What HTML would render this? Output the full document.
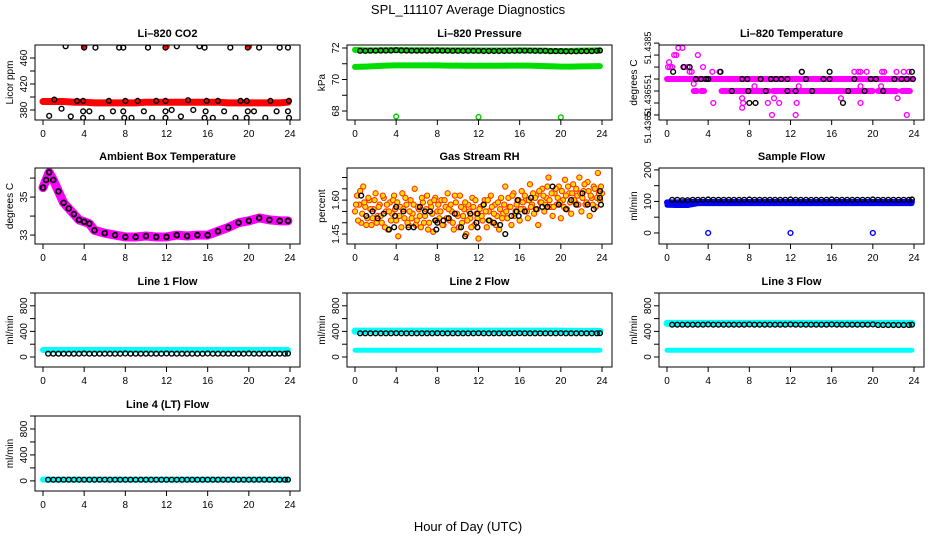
<!DOCTYPE html>
<html><head><meta charset="utf-8"><style>
html,body{margin:0;padding:0;background:#fff}
svg{display:block;font-family:"Liberation Sans",sans-serif}
</style></head><body>
<svg id="c" width="936" height="540" viewBox="0 0 936 540">
<rect width="936" height="540" fill="#fff"/>
<text x="468" y="14" font-size="13" text-anchor="middle">SPL_111107  Average Diagnostics</text>
<text x="468" y="531" font-size="13" text-anchor="middle">Hour of Day (UTC)</text>
</svg>
<script>
const xTicks=[0,4,8,12,16,20,24];
const hourly=[0,1,2,3,4,5,6,7,8,9,10,11,12,13,14,15,16,17,18,19,20,21,22,23,23.8];
const halfHours=[0.5,1,1.5,2,2.5,3,3.5,4,4.5,5,5.5,6,6.5,7,7.5,8,8.5,9,9.5,10,10.5,11,11.5,12,12.5,13,13.5,14,14.5,15,15.5,16,16.5,17,17.5,18,18.5,19,19.5,20,20.5,21,21.5,22,22.5,23,23.5,23.8];
// CO2
const co2Red=[393,393,393,392,392,391,391,391,391,391,392,392,392,392,392,392,392,392,391,391,391,391,391,391,392];
const co2RedOutH=[4,12,20], co2RedOutV=[478,478,478];
const co2BlkH=[2.2,4.0,5.1,7.4,7.8,10.2,11.9,13.0,15.2,15.7,18.2,19.9,21.0,23.0,23.8,1.1,3.3,3.9,6.4,8.0,9.2,11.0,11.9,14.1,15.9,17.0,19.2,19.8,22.1,23.9,0.6,1.8,2.7,3.9,3.9,4.5,5.7,6.8,7.8,7.9,8.6,9.8,10.6,11.9,11.9,12.5,13.4,14.6,15.7,15.8,16.5,17.6,18.7,19.8,19.9,20.5,21.6,22.7,23.8,23.9];
const co2BlkV=[478,476,476,476,476,476,476,478,478,476,476,476,476,476,476,396,394,394,394,394,394,394,394,395,394,394,394,394,394,394,371,382,370,368,378,378,368,378,378,368,368,378,368,368,378,380,370,380,368,378,368,378,368,368,378,378,368,378,378,368];
// Pressure
const presUpper=[71.88,71.85,71.85,71.86,71.87,71.86,71.86,71.86,71.86,71.85,71.85,71.85,71.84,71.84,71.84,71.84,71.85,71.84,71.83,71.82,71.81,71.82,71.83,71.84,71.85];
const presLower=[70.8,70.82,70.85,70.88,70.9,70.9,70.9,70.9,70.9,70.88,70.88,70.87,70.87,70.87,70.87,70.88,70.88,70.88,70.86,70.84,70.82,70.82,70.83,70.84,70.85];
const presBlk=[71.82,71.82,71.83,71.83,71.84,71.84,71.84,71.86,71.84,71.84,71.83,71.83,71.83,71.83,71.83,71.84,71.83,71.83,71.82,71.82,71.82,71.82,71.82,71.82,71.81,71.81,71.81,71.81,71.81,71.82,71.82,71.83,71.83,71.83,71.82,71.82,71.82,71.8,71.8,71.8,71.79,71.79,71.79,71.8,71.8,71.8,71.82,71.84];
const presOutH=[4,12,20], presOutV=[67.65,67.62,67.6];
// Li-820 temperature
const tempMain=[51.4375,51.4375,51.4375,51.4375,51.4375,51.4375,51.4375,51.4375,51.4375,51.4375,51.4375,51.4375,51.4375,51.4375,51.4375,51.4375,51.4375,51.4375,51.4375,51.4375,51.4375,51.4375,51.4375,51.4375,51.4375];
const tempLowStart=[2.6,3.3,5.3,6.0,10.3,15.0,20.5,22.8], tempLowEnd=[2.9,3.6,5.8,9.9,14.9,20.0,22.3,23.6];
const tempMagH=[0.1,0.2,0.3,0.5,0.7,0.9,1.1,1.3,1.5,1.7,2.0,2.2,2.4,2.6,2.8,3.0,3.5,4.4,4.5,5.1,7.3,7.3,7.4,8.5,9.8,10.2,10.4,10.9,12.8,12.6,12.5,13.1,16.9,18.2,18.6,18.8,18.8,18.8,19.4,20.8,20.9,21.1,22.4,22.3,23.0,23.3,23.5];
const tempMagV=[51.438,51.4382,51.438,51.438,51.4385,51.4385,51.4388,51.439,51.4388,51.438,51.438,51.4378,51.4378,51.4373,51.437,51.4385,51.438,51.4378,51.4365,51.4378,51.4367,51.4363,51.4365,51.4372,51.4365,51.436,51.4367,51.4365,51.4372,51.4365,51.436,51.4378,51.4367,51.4378,51.4378,51.4378,51.4372,51.4365,51.4378,51.4372,51.4378,51.4378,51.4367,51.4378,51.4378,51.436,51.4378];
const tempBlkH=[0.6,1.1,1.6,2.2,5.2,6.3,7.9,8.0,8.6,9.6,11.7,12.5,13.1,14.1,15.8,17.1,17.6,19.2,21.0,23.8,2.8,3.3,3.8,4.0,7.3,7.8,9.1,10.1,10.6,11.1,11.7,13.5,15.2,15.8,18.2,19.8,20.3,22.1,22.8,23.3,23.9];
const tempBlkV=[51.4378,51.439,51.438,51.438,51.4378,51.437,51.437,51.4365,51.4365,51.437,51.437,51.437,51.4378,51.437,51.4378,51.4365,51.437,51.437,51.437,51.4378,51.4375,51.4375,51.4375,51.4375,51.4375,51.4375,51.4375,51.4375,51.4375,51.4375,51.4375,51.4375,51.4375,51.4375,51.4375,51.4375,51.4375,51.4375,51.4375,51.4375,51.4375];
// Ambient box temperature
const ambH=[0,0.3,0.6,1,1.5,2,2.5,3,3.5,4,4.5,5,6,7,8,9,10,11,12,13,14,15,16,17,18,19,20,21,22,23,23.8];
const ambV=[35.5,35.9,36.3,35.9,35.3,34.7,34.4,34.1,33.8,33.7,33.6,33.25,33.1,33.0,32.9,32.9,32.95,32.9,32.9,33.0,32.95,33.0,33.0,33.2,33.4,33.65,33.75,33.9,33.8,33.75,33.75];
// Gas stream RH
const rhYellowA=[1.55,1.62,1.58,1.50,1.66,1.57,1.52,1.60,1.49,1.56,1.63,1.53,1.58,1.50,1.61,1.55,1.47,1.59,1.54,1.62,1.51,1.44,1.57,1.63,1.52,1.58,1.49,1.60,1.54,1.65,1.51,1.56,1.48,1.59,1.53,1.62,1.50,1.57,1.46,1.61,1.55,1.52,1.60,1.49,1.57,1.63,1.51,1.55,1.47,1.59,1.53,1.62,1.50,1.56,1.45,1.58,1.52,1.61,1.49,1.54,1.43,1.57,1.51,1.60,1.48,1.55,1.62,1.50,1.58,1.53,1.47,1.61,1.54,1.66,1.52,1.57,1.49,1.63,1.55,1.59,1.51,1.64,1.56,1.60,1.52,1.67,1.58,1.54,1.62,1.49,1.59,1.65,1.55,1.61,1.70,1.57,1.53,1.63,1.58,1.66,1.52,1.60,1.69,1.56,1.63,1.54,1.67,1.59,1.62,1.70,1.55,1.64,1.58,1.68,1.53,1.61,1.66,1.57,1.72,1.60,1.63];
const rhYellowB=[1.58,1.51,1.64,1.54,1.59,1.49,1.61,1.56,1.52,1.60,1.50,1.57,1.53,1.62,1.48,1.58,1.55,1.51,1.60,1.56,1.59,1.53,1.48,1.56,1.61,1.50,1.55,1.52,1.58,1.49,1.57,1.53,1.61,1.50,1.56,1.47,1.59,1.54,1.60,1.51,1.58,1.55,1.49,1.60,1.52,1.56,1.58,1.50,1.62,1.54,1.48,1.57,1.53,1.59,1.51,1.55,1.48,1.57,1.60,1.52,1.56,1.53,1.58,1.55,1.60,1.51,1.57,1.54,1.49,1.59,1.56,1.52,1.58,1.55,1.61,1.57,1.62,1.53,1.58,1.60,1.56,1.59,1.62,1.55,1.60,1.57,1.63,1.61,1.56,1.64,1.59,1.62,1.58,1.66,1.60,1.63,1.57,1.65,1.61,1.59,1.64,1.57,1.62,1.66,1.59,1.63,1.60,1.65,1.58,1.63,1.61,1.67,1.59,1.64,1.62,1.58,1.65,1.61,1.63,1.66];
const rhBlkH=[0.6,1.1,1.7,2.2,2.8,3.3,3.8,3.9,4.0,4.7,5.2,5.7,6.3,6.8,7.3,7.8,7.9,8.0,8.6,9.1,9.7,10.3,10.7,11.2,11.8,11.9,11.9,12.5,13.0,13.5,14.1,14.6,15.2,15.7,15.8,15.9,16.5,17.1,17.6,18.2,18.7,19.2,19.8,20.5,21.0,21.5,22.1,22.6,23.2,23.8,23.8,23.9];
const rhBlkV=[1.62,1.53,1.55,1.52,1.54,1.47,1.48,1.53,1.57,1.55,1.48,1.48,1.57,1.55,1.55,1.51,1.47,1.50,1.51,1.52,1.54,1.48,1.44,1.54,1.50,1.54,1.48,1.58,1.51,1.50,1.49,1.45,1.53,1.55,1.60,1.53,1.55,1.61,1.56,1.57,1.57,1.66,1.58,1.56,1.60,1.58,1.63,1.58,1.56,1.61,1.64,1.58];
// Sample flow
const sampBlue=[97,97,98,98,98,98,98,98,98,98,98,98,98,98,98,98,98,98,98,98,98,98,98,98,98];
const sampBlueLow=[88,87,87,93,93,93,93,93,93,93,93,93,93,93,93,93,93,93,93,93,93,93,93,93,93];
const sampBlk=[105,105,104,104,105,105,105,106,105,105,105,105,105,105,105,106,105,105,105,105,105,105,105,106,105,105,105,105,105,105,105,106,105,105,105,105,105,105,105,106,105,105,105,105,105,105,105,106];
const sampOutH=[4,12,20], sampOutV=[0,0,0];
// Line flows
const l1Cyan=[110,110,110,110,110,110,110,110,110,110,110,110,110,110,110,110,110,110,110,110,110,110,110,110,110];
const l1Blk=[52,52,52,52,52,52,52,55,52,52,52,52,52,52,52,55,52,52,52,52,52,52,52,55,52,52,52,52,52,52,52,55,52,52,52,52,52,52,52,55,52,52,52,52,52,52,52,55];
const l2CyanUp=[405,405,405,405,405,405,405,405,405,405,405,405,405,405,405,405,405,405,405,405,405,400,400,400,400];
const l2CyanLow=[105,105,105,105,105,105,105,105,105,105,105,105,105,105,105,105,105,105,105,105,105,105,105,105,105];
const l2Blk=[370,370,370,370,370,370,370,372,370,370,370,370,370,370,370,372,370,370,370,370,370,370,370,372,370,370,370,370,370,370,370,372,370,370,370,370,370,370,370,372,370,370,370,370,370,370,370,372];
const l3CyanUp=[525,525,525,525,525,525,525,525,525,525,525,525,525,525,525,525,525,525,525,525,525,525,525,525,525];
const l3CyanLow=[105,105,105,105,105,105,105,105,105,105,105,105,105,105,105,105,105,105,105,105,105,105,105,105,105];
const l3Blk=[505,505,505,505,505,505,505,508,505,505,505,505,505,505,505,508,505,505,505,505,505,505,505,508,505,505,505,505,505,505,505,508,505,505,505,505,505,505,505,508,500,500,500,500,500,500,500,505];
const l4Cyan=[20,20,20,20,20,20,20,20,20,20,20,20,20,20,20,20,20,20,20,20,20,20,20,20,20];
const l4Blk=[18,18,18,18,18,18,18,18,18,18,18,18,18,18,18,18,18,18,18,18,18,18,18,18,18,18,18,18,18,18,18,18,18,18,18,18,18,18,18,18,18,18,18,18,18,18,18,18];

const NS='http://www.w3.org/2000/svg';
const svg=document.getElementById('c');
const boxTop=[45,168,293,416], boxBot=[120,244,367,491];
const boxL=[35,347,659], boxR=[300,612,924], x0s=[43,355,667], x24s=[290,602,914];
function mk(tag,attrs,parent){const e=document.createElementNS(NS,tag);for(const k in attrs)e.setAttribute(k,attrs[k]);(parent||svg).appendChild(e);return e;}
function panel(name,title,ytitle,col,row,vTop,vBot,yticks,ylabels,ylabelPos,lblSize){
  const g=mk('g',{});
  
  
  const T=boxTop[row],B=boxBot[row],L=boxL[col],R=boxR[col];
  const p={g,x:h=>x0s[col]+(x24s[col]-x0s[col])*h/24,y:v=>T+(vTop-v)/(vTop-vBot)*(B-T)};
  const cp=mk('clipPath',{id:'cl'+name},g);mk('rect',{x:L,y:T,width:R-L,height:B-T},cp);
  p.plot=mk('g',{'clip-path':'url(#cl'+name+')'},g);
  
  
  const t=mk('text',{x:(L+R)/2,y:T-8,'font-size':11,'font-weight':'bold','text-anchor':'middle'},g);t.textContent=title;
  
  
  const box=mk('rect',{x:L,y:T,width:R-L,height:B-T,fill:'none',stroke:'#000','stroke-width':1},g);
  
  
  const xa=mk('g',{},g);
  
  
  mk('line',{x1:p.x(0),x2:p.x(24),y1:B,y2:B,stroke:'#000'},xa);
  xTicks.forEach(h=>{mk('line',{x1:p.x(h),x2:p.x(h),y1:B,y2:B+5,stroke:'#000'},xa);
    const l=mk('text',{x:p.x(h),y:B+17,'font-size':10,'text-anchor':'middle'},xa);l.textContent=h;});
  const ya=mk('g',{},g);
  
  
  mk('line',{x1:L,x2:L,y1:p.y(yticks[0]),y2:p.y(yticks[yticks.length-1]),stroke:'#000'},ya);
  yticks.forEach(v=>mk('line',{x1:L-5,x2:L,y1:p.y(v),y2:p.y(v),stroke:'#000'},ya));
  ylabels.forEach((s,i)=>{const yy=p.y(ylabelPos[i]);const l=mk('text',{x:L-8,y:yy,'font-size':lblSize||10,'text-anchor':'middle',transform:`rotate(-90 ${L-8} ${yy})`},ya);l.textContent=s;});
  const yt=mk('text',{x:L-22,y:(T+B)/2,'font-size':10,'text-anchor':'middle',transform:`rotate(-90 ${L-22} ${(T+B)/2})`},g);yt.textContent=ytitle;
  
  
  return p;
}
function pts(p,hs,vs,color,nm,r,fill,sw){
  const g=mk('g',{},p.plot);
  
  
  hs.forEach((h,i)=>{if(vs[i]==null)return;const c=mk('circle',{cx:p.x(h),cy:p.y(vs[i]),r:r||2.4,fill:fill||'none',stroke:color,'stroke-width':sw||1.4},g);
    
    });
}
function band(p,hs,vs,color,w,nm){
  const d=hs.map((h,i)=>(i?'L':'M')+p.x(h)+','+p.y(vs[i])).join('');
  const e=mk('path',{d,fill:'none',stroke:color,'stroke-width':w,'stroke-linecap':'round','stroke-linejoin':'round'},p.plot);
  
  
}
// CO2
let p=panel('co2','Li\u2013820 CO2','Licor ppm',0,0,480,364.6,[380,400,420,440,460],['380','420','460'],[380,420,460]);
band(p,hourly,co2Red,'#f00',7,'co2-red-band');
pts(p,co2RedOutH,co2RedOutV,'#f00','co2-red-outliers',2.6,'#f00');
pts(p,co2BlkH,co2BlkV,'#000','co2-black-points');
// Pressure
p=panel('pressure','Li\u2013820 Pressure','kPa',1,0,72.19,67.43,[68,69,70,71,72],['68','70','72'],[68,70,72]);
band(p,hourly,presUpper,'#00dd00',6,'pressure-upper-band');
band(p,hourly,presLower,'#00dd00',6,'pressure-lower-band');
pts(p,halfHours,presBlk,'#000','pressure-black-points');
pts(p,presOutH,presOutV,'#00cc00','pressure-outliers');
// Li-820 temperature
p=panel('li820-temp','Li\u2013820 Temperature','degrees C',2,0,51.43892,51.43579,[51.436,51.4365,51.437,51.4375,51.438,51.4385,51.439],['51.4385','51','51.4365','51.4365'],[51.4388,51.4375,51.4366,51.4355],9);
band(p,hourly,tempMain,'#ff00ff',6,'temp-main-band');
tempLowStart.forEach((s,i)=>band(p,[s,tempLowEnd[i]],[51.437,51.437],'#ff00ff',6,'temp-low-band'));
pts(p,tempMagH,tempMagV,'#ff00ff','temp-magenta-points');
pts(p,tempBlkH,tempBlkV,'#000','temp-black-points');
// Ambient
p=panel('ambient','Ambient Box Temperature','degrees C',0,1,36.53,32.53,[33,34,35,36],['33','35'],[33,35]);
band(p,ambH,ambV,'#ff00ff',9,'ambient-band');
pts(p,ambH,ambV,'#000','ambient-black-points',2.4,'none',1.8);
// RH
p=panel('rh','Gas Stream RH','percent',1,1,1.742,1.406,[1.45,1.5,1.55,1.6,1.65,1.7],['1.45','1.60'],[1.45,1.6]);
pts(p,rhYellowA.map((v,i)=>i*0.2),rhYellowA,'#ff3300','rh-yellow-points-a',2.6,'#ffdd00',1.1);
pts(p,rhYellowB.map((v,i)=>i*0.2+0.1),rhYellowB,'#ff3300','rh-yellow-points-b',2.6,'#ffdd00',1.1);
pts(p,rhBlkH,rhBlkV,'#000','rh-black-points');
// Sample flow
p=panel('sample-flow','Sample Flow','ml/min',2,1,206,-35,[0,50,100,150,200],['0','100','200'],[0,100,200]);
band(p,hourly,sampBlue,'#0000ff',6,'sample-blue-band');
band(p,hourly,sampBlueLow,'#0000ff',5,'sample-blue-low-band');
pts(p,halfHours,sampBlk,'#000','sample-black-points');
pts(p,sampOutH,sampOutV,'#0000ff','sample-outliers');
// Lines
const fT=[0,200,400,600,800,1000],fL=['0','400','800'],fP=[0,400,800];
p=panel('line1','Line 1 Flow','ml/min',0,2,1000,-156,fT,fL,fP);
band(p,hourly,l1Cyan,'#00ffff',6,'line1-cyan-band');
pts(p,halfHours,l1Blk,'#000','line1-black-points');
p=panel('line2','Line 2 Flow','ml/min',1,2,1000,-156,fT,fL,fP);
band(p,hourly,l2CyanUp,'#00ffff',7,'line2-cyan-upper');
band(p,hourly,l2CyanLow,'#00ffff',5,'line2-cyan-lower');
pts(p,halfHours,l2Blk,'#000','line2-black-points');
p=panel('line3','Line 3 Flow','ml/min',2,2,1000,-156,fT,fL,fP);
band(p,hourly,l3CyanUp,'#00ffff',7,'line3-cyan-upper');
band(p,hourly,l3CyanLow,'#00ffff',5,'line3-cyan-lower');
pts(p,halfHours,l3Blk,'#000','line3-black-points');
p=panel('line4','Line 4 (LT) Flow','ml/min',0,3,1000,-156,fT,fL,fP);
band(p,hourly,l4Cyan,'#00ffff',6,'line4-cyan-band');
pts(p,halfHours,l4Blk,'#000','line4-black-points');
</script>
</body></html>
